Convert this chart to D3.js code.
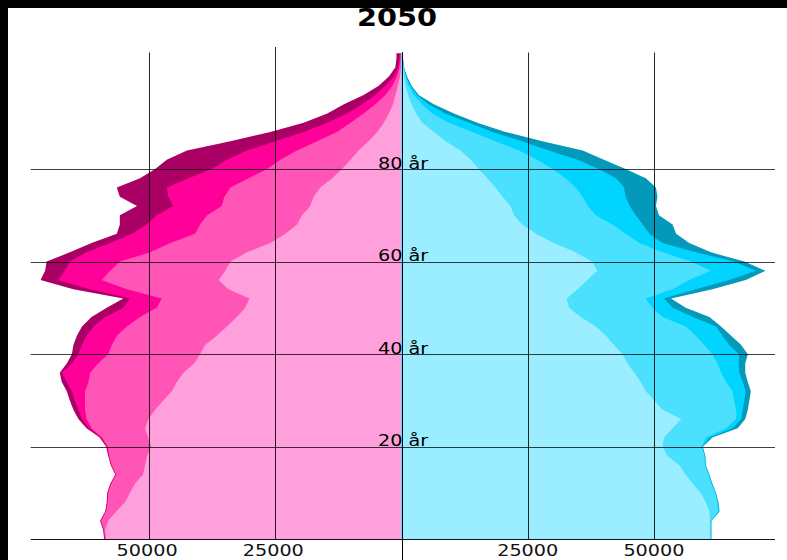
<!DOCTYPE html>
<html>
<head>
<meta charset="utf-8">
<script src="https://cdn.jsdelivr.net/npm/d3@7"></script>
<style>
  html, body { margin: 0; padding: 0; background: #fff; }
  svg { display: block; font-family: "DejaVu Sans", sans-serif; }
</style>
</head>
<body>
<div id="chart"></div>
<script>
// Age groups (every second year, plus the oldest group)
const ages = [0, 2, 4, 6, 8, 10, 12, 14, 16, 18, 20,
  22, 24, 26, 28, 30, 32, 34, 36, 38, 40,
  42, 44, 46, 48, 50, 52, 54, 56, 58, 60,
  62, 64, 66, 68, 70, 72, 74, 76, 78, 80,
  82, 84, 86, 88, 90, 92, 94, 96, 98, 100,
  102, 104, 105];

// Women (left side), cumulative from the centre outwards
const women1 = [58500, 58700, 58100, 56500, 54800, 53800, 52800, 51200, 50800, 50400, 49600,
  50200, 50800, 50100, 48800, 47200, 45500, 44500, 43200, 41100, 39900,
  38900, 36600, 34600, 32600, 31000, 30100, 34300, 36200, 34900, 33900,
  30600, 26000, 23000, 20700, 19700, 18100, 17400, 16100, 13700, 11800,
  10100, 8500, 6500, 4800, 3500, 2500, 1700, 1200, 700, 300,
  100, 100, 100];
const women2 = [58700, 58900, 59500, 58500, 58200, 58100, 57500, 56500, 57400, 57900, 58200,
  59300, 61400, 62400, 62700, 62700, 62700, 62000, 61700, 60100, 58100,
  57400, 56400, 54400, 51800, 48500, 47500, 54400, 59400, 57700, 55800,
  49800, 45800, 40900, 39900, 38500, 35600, 35100, 33900, 30300, 26600,
  24000, 20700, 16700, 12800, 10100, 7500, 5200, 3200, 1800, 900,
  400, 200, 200];
const women3 = [58800, 59000, 59600, 58600, 58300, 58200, 57600, 56600, 57500, 58000, 58300,
  59600, 62000, 63300, 64000, 64700, 65300, 66300, 67300, 65300, 64000,
  63300, 62400, 61000, 58700, 55100, 53800, 61700, 68000, 66700, 65700,
  62400, 57700, 53400, 50500, 48500, 45200, 46200, 46500, 42200, 37600,
  34600, 30600, 25000, 19400, 14700, 10800, 7800, 5200, 3200, 1500,
  700, 400, 400];
const women4 = [58900, 59100, 59700, 58700, 58400, 58300, 57700, 56700, 57600, 58100, 58500,
  59800, 62400, 64000, 65000, 65700, 66300, 67300, 67700, 66300, 65300,
  65000, 64300, 63300, 61400, 58400, 55100, 65000, 71500, 70600, 70300,
  65700, 61400, 56400, 55800, 55800, 52400, 55800, 56400, 51800, 48800,
  46500, 42500, 33900, 26000, 19400, 14700, 11400, 7500, 4500, 2500,
  1200, 1000, 1000];

// Men (right side), cumulative from the centre outwards
const men1 = [61100, 61100, 61100, 61000, 60300, 59300, 57700, 56300, 55000, 52700, 51700,
  52000, 53700, 55400, 51700, 50100, 48400, 47400, 46100, 44800, 43800,
  42100, 40500, 38500, 35500, 33200, 32700, 34900, 36800, 38800, 37800,
  34500, 30200, 26600, 23900, 22300, 21600, 20000, 18600, 17000, 15300,
  13700, 11700, 8700, 6400, 4100, 2900, 2000, 1300, 800, 500,
  300, 200, 200];
const men2 = [61200, 61200, 61200, 62700, 62600, 62100, 61400, 60800, 60100, 60000, 59500,
  60300, 64300, 66300, 66300, 65900, 65600, 64300, 63300, 62600, 61600,
  60000, 58300, 56300, 51700, 49700, 48400, 53700, 57000, 61300, 57300,
  51700, 47100, 44400, 41800, 38500, 36900, 35900, 34500, 32500, 29900,
  26900, 23300, 18600, 14000, 9400, 6100, 4100, 2400, 1400, 800,
  400, 200, 200];
const men3 = [61300, 61300, 61300, 62900, 62700, 62200, 61500, 60900, 60200, 60100, 59600,
  61100, 65600, 67300, 67600, 67900, 68200, 67600, 66900, 66800, 66900,
  64900, 63600, 62300, 57700, 53700, 52000, 58300, 64900, 70200, 65900,
  58300, 51700, 49100, 47800, 46400, 45200, 44400, 44100, 42500, 39100,
  34900, 29200, 23900, 18000, 13400, 8700, 5400, 3100, 1800, 900,
  500, 300, 300];
const men4 = [61400, 61400, 61400, 63000, 62800, 62300, 61600, 61000, 60300, 60200, 59700,
  61600, 66600, 68100, 68600, 68900, 69200, 68600, 68100, 68100, 68600,
  67300, 65300, 63300, 61000, 56300, 53400, 61600, 68200, 72100, 67900,
  61300, 57000, 54400, 53700, 51000, 50400, 50700, 50400, 48400, 44400,
  40100, 35900, 27900, 20600, 15000, 10400, 6400, 3400, 2000, 1100,
  500, 300, 300];

const womenColors = ['#FFA0DC', '#FF55B6', '#FF0099', '#AA0066'];
const menColors = ['#9AEEFF', '#4CE0FF', '#00D4FF', '#0399BA'];

const ageTicks = [20, 40, 60, 80];
const popTicks = [25000, 50000];
const title = '2050';

const width = 787;
const height = 560;
const centre = 401.5;
const pxPerPerson = 126.2 / 25000;

const xLeft = d3.scaleLinear().domain([0, 75000]).range([centre, centre - 75000 * pxPerPerson]);
const xRight = d3.scaleLinear().domain([0, 75000]).range([centre, centre + 75000 * pxPerPerson]);
const y = d3.scaleLinear().domain([0, 80]).range([539.3, 169]);

const svg = d3.select('#chart')
  .append('svg')
  .attr('width', width)
  .attr('height', height);

svg.append('rect')
  .attr('width', width)
  .attr('height', height)
  .attr('fill', '#fff');

// Draw the bands, outermost first so inner ones cover them
const drawSide = (bands, colors, xScale) => {
  const g = svg.append('g');
  for (let k = bands.length - 1; k >= 0; k--) {
    const area = d3.area()
      .y((d, i) => y(ages[i]))
      .x0(xScale(0))
      .x1(d => xScale(d))
      .curve(d3.curveLinear);
    g.append('path')
      .datum(bands[k])
      .attr('d', area)
      .attr('fill', colors[k]);
  }
};

drawSide([women1, women2, women3, women4], womenColors, xLeft);
drawSide([men1, men2, men3, men4], menColors, xRight);

// Horizontal grid lines (incl. baseline)
const grid = svg.append('g').attr('stroke', '#000').attr('stroke-width', 1);
grid.selectAll('.hline')
  .data([0].concat(ageTicks))
  .enter()
  .append('line')
  .attr('x1', 30.7)
  .attr('x2', 775)
  .attr('y1', d => Math.round(y(d)) + 0.5)
  .attr('y2', d => Math.round(y(d)) + 0.5)
  .attr('stroke-opacity', d => d === 0 ? 0.9 : 0.75);

// Vertical grid lines
const vlines = popTicks.map(v => ({ x: xLeft(v), top: v === 25000 ? 47 : 52.5 }))
  .concat(popTicks.map(v => ({ x: xRight(v), top: 52.5 })));
grid.selectAll('.vline')
  .data(vlines)
  .enter()
  .append('line')
  .attr('x1', d => Math.round(d.x) + 0.5)
  .attr('x2', d => Math.round(d.x) + 0.5)
  .attr('y1', d => d.top)
  .attr('y2', y(0))
  .attr('stroke-opacity', 0.85);

// Centre line
grid.append('line')
  .attr('x1', Math.round(xLeft(0)) + 0.5)
  .attr('x2', Math.round(xLeft(0)) + 0.5)
  .attr('y1', 52)
  .attr('y2', height);

// Age labels (the image is stretched a little horizontally)
svg.selectAll('.age-label')
  .data(ageTicks)
  .enter()
  .append('text')
  .attr('transform', d => `translate(378,${y(d) - 0.5}) scale(1.2,1)`)
  .attr('font-size', 16)
  .attr('fill', '#000')
  .text(d => `${d} år`);

// Population tick labels
const popLabels = popTicks.map(v => ({ x: xLeft(v) - 2, v }))
  .concat(popTicks.map(v => ({ x: xRight(v), v })));
svg.selectAll('.pop-label')
  .data(popLabels)
  .enter()
  .append('text')
  .attr('transform', d => `translate(${d.x},556) scale(1.2,1)`)
  .attr('text-anchor', 'middle')
  .attr('font-size', 16)
  .attr('fill', '#111')
  .text(d => d.v);

// Title
svg.append('text')
  .attr('transform', 'translate(397,26) scale(1.2,1)')
  .attr('text-anchor', 'middle')
  .attr('font-size', 24)
  .attr('font-weight', 'bold')
  .attr('fill', '#000')
  .text(title);

// Black frame strips at top and left
svg.append('rect').attr('x', 0).attr('y', 0).attr('width', width).attr('height', 8).attr('fill', '#000');
svg.append('rect').attr('x', 0).attr('y', 0).attr('width', 8).attr('height', height).attr('fill', '#000');
</script>
</body>
</html>
